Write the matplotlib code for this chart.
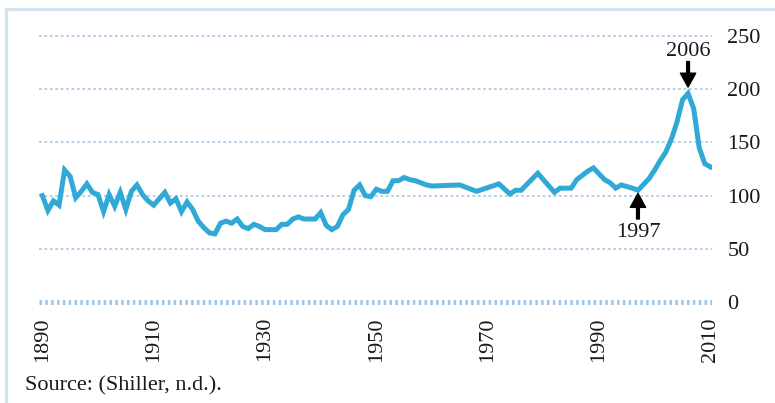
import matplotlib
matplotlib.use('Agg')
import matplotlib.pyplot as plt
from matplotlib.lines import Line2D

# ---- data ----
years = [1890, 1891, 1892, 1893, 1894, 1895, 1896, 1897, 1898, 1899,
         1900, 1901, 1902, 1903, 1904, 1905, 1906, 1907, 1908, 1909,
         1910, 1911, 1912, 1913, 1914, 1915, 1916, 1917, 1918, 1919,
         1920, 1921, 1922, 1923, 1924, 1925, 1926, 1927, 1928, 1929,
         1930, 1931, 1932, 1933, 1934, 1935, 1936, 1937, 1938, 1939,
         1940, 1941, 1942, 1943, 1944, 1945, 1946, 1947, 1948, 1949,
         1950, 1951, 1952, 1953, 1954, 1955, 1956, 1957, 1958, 1959,
         1960, 1965, 1968, 1972, 1974, 1975, 1976, 1979, 1982, 1983,
         1985, 1986, 1988, 1989, 1991, 1992, 1993, 1994, 1996, 1997,
         1999, 2000, 2001, 2002, 2003, 2004, 2005, 2006, 2007, 2008,
         2009, 2010]
index_values = [100, 86, 95, 91, 124, 118, 98, 104, 111, 103,
                101, 85, 101, 90, 103, 87, 104, 110, 101, 95,
                91, 97, 103, 93, 97, 85, 94, 87, 76, 70,
                65, 64, 74, 76, 74, 78, 71, 69, 73, 71,
                68, 68, 68, 73, 73, 78, 80, 78, 78, 78,
                84, 72, 68, 71, 82, 87, 105, 110, 100, 99,
                106, 104, 104, 114, 114, 117, 115, 114, 112, 110,
                109, 110, 104, 111, 101.5, 105, 105, 121, 103, 107,
                107, 115, 123, 126, 115, 112, 107, 110, 107, 105,
                116, 124, 133, 141, 153, 169, 190, 196, 182, 145,
                130, 127]

x_ticks = [1890, 1910, 1930, 1950, 1970, 1990, 2010]
y_ticks = [0, 50, 100, 150, 200, 250]
peak_year, peak_label = 2006, "2006"
trough_year, trough_label = 1997, "1997"
source_text = "Source: (Shiller, n.d.)."

# ---- styling ----
plt.rcParams['font.family'] = ['Liberation Serif', 'DejaVu Serif']
plt.rcParams['lines.scale_dashes'] = False
line_color = '#30a9d6'
grid_color = '#9fc5e8'
frame_color = '#d3e3f1'
text_color = '#1a1a1a'
W, H = 775, 403

fig = plt.figure(figsize=(W / 100, H / 100), dpi=100)
ax = fig.add_axes([39 / W, 1 - 307.3 / H, (712 - 39) / W, (307.3 - 30.7) / H])
ax.set_xlim(1889.4, 2010.3)
ax.set_ylim(-5, 255)

for v in y_ticks:
    if v == 0:
        ax.axhline(v, color=grid_color, lw=3.6, linestyle=(0, (1.8, 2.4)),
                   zorder=1)
    else:
        ax.axhline(v, color=grid_color, lw=1.1, linestyle=(0, (2.0, 1.9)),
                   zorder=1)

ax.plot(years, index_values, color=line_color, lw=3.6,
        solid_joinstyle='miter', zorder=3)

# annotations
ax.annotate('', xy=(peak_year, 202), xytext=(peak_year, 226),
            arrowprops=dict(facecolor='black', edgecolor='black', width=2,
                            headwidth=11, headlength=10, shrink=0))
ax.text(peak_year, 235.5, peak_label, ha='center', va='center',
        fontsize=16, color=text_color)
ax.annotate('', xy=(trough_year, 102), xytext=(trough_year, 78),
            arrowprops=dict(facecolor='black', edgecolor='black', width=2,
                            headwidth=11, headlength=10, shrink=0))
ax.text(trough_year, 65.5, trough_label, ha='center', va='center',
        fontsize=16, color=text_color)

for s in ax.spines.values():
    s.set_visible(False)
ax.yaxis.tick_right()
ax.set_yticks(y_ticks)
ax.set_yticklabels([str(v) for v in y_ticks])
ax.set_xticks(x_ticks)
ax.set_xticklabels([str(v) for v in x_ticks], rotation=90)
ax.tick_params(axis='y', length=0, pad=11, labelsize=16, colors=text_color)
ax.tick_params(axis='x', length=0, pad=7, labelsize=16, colors=text_color)

# frame lines
fig.add_artist(Line2D([6 / W, 1], [1 - 8.5 / H, 1 - 8.5 / H],
                      transform=fig.transFigure, color=frame_color, lw=2.2))
fig.add_artist(Line2D([6 / W, 6 / W], [0, 1 - 8.5 / H],
                      transform=fig.transFigure, color=frame_color, lw=2.2))

fig.text(25 / W, 1 - 390.7 / H, source_text, ha='left', va='baseline',
         fontsize=16, color=text_color)

fig.savefig('out.png', dpi=100)
